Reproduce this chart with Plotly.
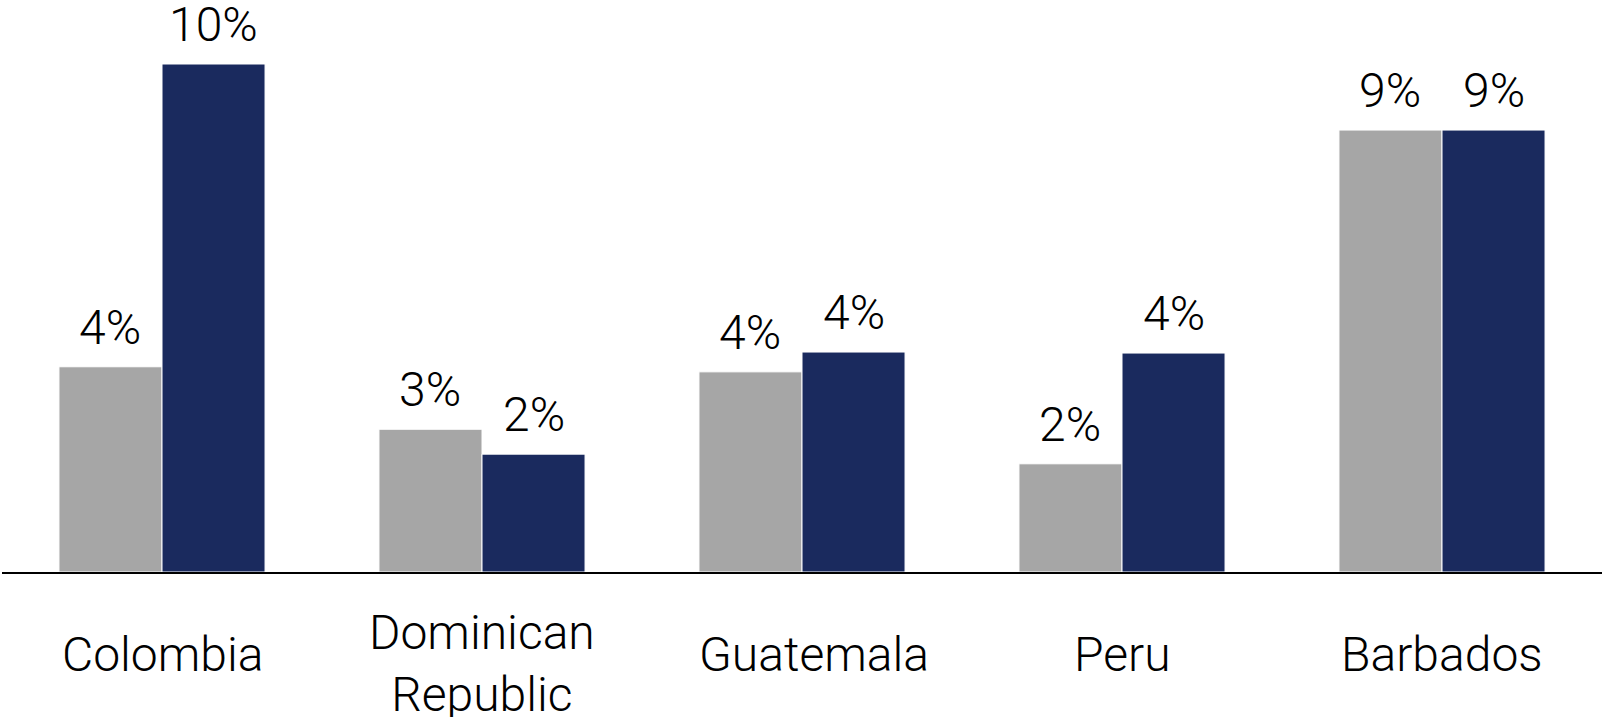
import plotly.graph_objects as go

categories = ["Colombia", "Dominican<br>Republic", "Guatemala", "Peru", "Barbados"]
series_a = [4.04, 2.81, 3.94, 2.13, 8.70]   # grey
series_b = [10.0, 2.32, 4.33, 4.31, 8.70]   # navy
labels_a = ["4%", "3%", "4%", "2%", "9%"]
labels_b = ["10%", "2%", "4%", "4%", "9%"]

GREY = "#A6A6A6"
NAVY = "#1A2A5E"
FONT = "Roboto"
BARGAP = 0.356
HALF = (1 - BARGAP) / 4 * 320  # pixel offset of each bar centre from category centre
LABEL_XSHIFT = {"Guatemala": 12}

fig = go.Figure()
fig.add_trace(go.Bar(
    x=categories, y=series_a,
    marker=dict(color=GREY, line=dict(color="white", width=1)),
    showlegend=False, hoverinfo="skip",
))
fig.add_trace(go.Bar(
    x=categories, y=series_b,
    marker=dict(color=NAVY, line=dict(color="white", width=1)),
    showlegend=False, hoverinfo="skip",
))

lbl_font = dict(family=FONT, size=48, color="black", weight=300)
for c, v, t in zip(categories, series_a, labels_a):
    fig.add_annotation(x=c, y=v, text=t, showarrow=False, yanchor="bottom",
                       xshift=-HALF, yshift=9, font=lbl_font)
for c, v, t in zip(categories, series_b, labels_b):
    fig.add_annotation(x=c, y=v, text=t, showarrow=False, yanchor="bottom",
                       xshift=HALF, yshift=9, font=lbl_font)

for c in categories:
    multi = "<br>" in c
    fig.add_annotation(
        x=c, y=0, xref="x", yref="y", text=c, showarrow=False,
        yanchor="middle", yshift=-91 if multi else -82,
        xshift=LABEL_XSHIFT.get(c, 0), font=lbl_font,
    )

fig.update_layout(
    width=1602, height=717,
    margin=dict(l=2, r=0, t=0, b=145),
    barmode="group", bargap=BARGAP, bargroupgap=0,
    plot_bgcolor="white", paper_bgcolor="white",
)
fig.update_xaxes(showticklabels=False, showline=True, linecolor="black",
                 linewidth=2, ticks="", showgrid=False, zeroline=False)
fig.update_yaxes(range=[0, 11.26], visible=False, showgrid=False, zeroline=False)

fig.write_html("out.html", config={"displayModeBar": False},
               post_script="document.body.style.margin='0';")
